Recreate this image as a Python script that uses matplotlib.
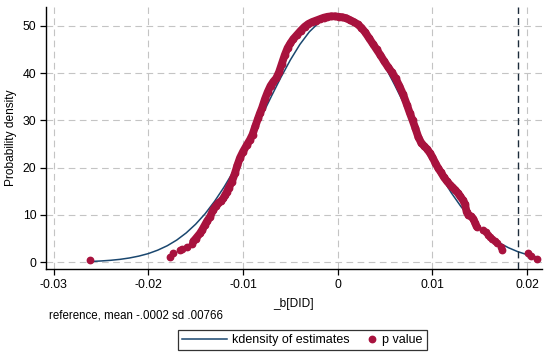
import matplotlib
matplotlib.use("Agg")
import matplotlib.pyplot as plt
from matplotlib.lines import Line2D
from matplotlib.legend_handler import HandlerLine2D

plt.rcParams['font.family'] = ['Liberation Sans', 'DejaVu Sans']

# kdensity reference line
line_x = [-0.0262, -0.025, -0.024, -0.023, -0.022, -0.021, -0.020, -0.019, -0.018,
          -0.017, -0.016, -0.015, -0.014, -0.013, -0.012, -0.011, -0.010, -0.009,
          -0.008, -0.007, -0.006, -0.005, -0.004, -0.003, -0.002, -0.001, 0.000,
          0.001, 0.002, 0.003, 0.004, 0.005, 0.006, 0.007, 0.008, 0.009, 0.010,
          0.011, 0.012, 0.013, 0.014, 0.015, 0.016, 0.017, 0.018, 0.019, 0.020, 0.021]
line_y = [0.16, 0.28, 0.42, 0.62, 0.91, 1.31, 1.84, 2.57, 3.50,
          4.70, 6.21, 8.06, 10.27, 12.90, 15.91, 19.27, 22.98, 26.92,
          31.02, 35.12, 39.10, 42.79, 46.05, 48.72, 50.66, 51.80, 52.06,
          51.44, 49.98, 47.73, 44.81, 41.36, 37.53, 33.48, 29.36, 25.32, 21.46,
          17.88, 14.65, 11.80, 9.34, 7.27, 5.56, 4.19, 3.10, 2.25, 1.61, 1.13]

# p value points: sparse left tail
tail_left_x = [-0.02617, -0.01769, -0.01744, -0.01665, -0.01644, -0.01589, -0.01543]
tail_left_y = [0.5, 1.2, 2.0, 2.6, 2.75, 3.2, 3.9]

# p value points: dense body
body_x = [-0.01526, -0.0150, -0.01455, -0.0143, -0.01402, -0.0138, -0.01349, -0.01315,
          -0.0129, -0.01262, -0.01235, -0.01209, -0.0119, -0.01173, -0.0115, -0.0112,
          -0.01086, -0.0106, -0.01032, -0.0100, -0.0096, -0.00927, -0.0090, -0.0087,
          -0.0084, -0.00822, -0.0080, -0.00769, -0.0074, -0.0071, -0.0068, -0.0065,
          -0.0062, -0.0059, -0.0056, -0.0053, -0.0050, -0.0047, -0.0043, -0.0039,
          -0.0035, -0.0031, -0.0027, -0.0023, -0.0019, -0.0015, -0.0011, -0.0007,
          -0.0003, 0.0001, 0.0005, 0.0009, 0.0013, 0.0017, 0.0021, 0.0025, 0.0029,
          0.0033, 0.0037, 0.0041, 0.0045, 0.0049, 0.0053, 0.0057, 0.0061, 0.0065,
          0.0069, 0.0073, 0.0076, 0.0079, 0.0082, 0.0085, 0.0088, 0.0091, 0.0094,
          0.0097, 0.0100, 0.0103, 0.0106, 0.0109, 0.0112, 0.0115, 0.01185, 0.0121,
          0.0124, 0.0127, 0.01291, 0.0132, 0.01343, 0.01361, 0.0138, 0.01405, 0.01431,
          0.0145, 0.01467]
body_y = [4.4, 5.0, 6.1, 6.9, 7.9, 8.7, 9.6, 11.1,
          11.8, 12.5, 12.9, 13.5, 14.2, 14.8, 15.8, 16.9,
          18.8, 20.5, 22.1, 23.4, 24.8, 25.9, 27.0, 28.8,
          30.5, 31.5, 32.6, 34.5, 36.0, 37.3, 38.2, 38.9,
          40.2, 42.0, 43.8, 45.3, 46.3, 47.2, 48.1, 49.0,
          49.8, 50.4, 50.8, 51.1, 51.4, 51.7, 51.9, 52.0,
          52.0, 51.9, 51.8, 51.6, 51.2, 50.8, 50.3, 49.6, 48.6,
          47.4, 46.2, 45.0, 43.8, 42.5, 41.3, 40.2, 38.9, 37.3,
          35.5, 33.3, 31.6, 30.0, 28.3, 26.5, 25.3, 24.6, 24.0,
          23.2, 22.2, 21.0, 19.9, 19.0, 18.0, 17.2, 16.4, 15.9,
          15.3, 14.6, 14.0, 13.2, 12.3, 10.6, 10.0, 9.7, 9.2,
          8.3, 7.5]

# p value points: sparse right tail
tail_right_x = [0.01536, 0.0156, 0.0159, 0.01607, 0.0163, 0.01655, 0.01678, 0.0172,
                0.0173, 0.02012, 0.02037, 0.02099]
tail_right_y = [6.8, 6.4, 5.8, 5.4, 5.0, 4.5, 4.0, 3.3, 2.6, 2.0, 1.3, 0.6]

actual_estimate = 0.0190

x_ticks = [-0.03, -0.02, -0.01, 0, 0.01, 0.02]
x_tick_labels = ['-0.03', '-0.02', '-0.01', '0', '0.01', '0.02']
y_ticks = [0, 10, 20, 30, 40, 50]

navy = '#1a476f'
red = '#a8123e'


class HandlerRightMarker(HandlerLine2D):
    def get_xdata(self, legend, xdescent, ydescent, width, height, fontsize):
        xm = -xdescent + width - 0.45 * fontsize
        return [xm, xm], [xm]


fig = plt.figure(figsize=(5.5, 3.58), dpi=100)
ax = fig.add_axes([46/550, 1-269.3/358, (541.7-46)/550, (269.3-7)/358])

ax.set_xlim(-0.0308, 0.02153)
ax.set_ylim(-1.48, 53.97)

for xv in x_ticks:
    ax.axvline(xv, color='#c4c4c4', lw=0.8, ls=(0, (6, 4)), zorder=0)
for yv in y_ticks:
    ax.axhline(yv, color='#c4c4c4', lw=0.8, ls=(0, (6, 4)), zorder=0)

ax.plot(line_x, line_y, color=navy, lw=1.1, zorder=2)

ax.plot(body_x, body_y, color=red, lw=5.6, solid_capstyle='round',
        solid_joinstyle='round', zorder=3)
all_x = tail_left_x + body_x + tail_right_x
all_y = tail_left_y + body_y + tail_right_y
ax.plot(all_x, all_y, ls='none', marker='o', ms=4.6, color=red, mec=red, zorder=4)

ax.axvline(actual_estimate, color='#1c2b3a', lw=1.0, ls=(0, (5, 3)), zorder=5)

ax.set_xticks(x_ticks)
ax.set_xticklabels(x_tick_labels)
ax.set_yticks(y_ticks)
ax.tick_params(axis='both', direction='out', length=4, width=0.9, labelsize=8.8,
               color='black', pad=3)

for s in ['top', 'right']:
    ax.spines[s].set_visible(False)
for s in ['left', 'bottom']:
    ax.spines[s].set_linewidth(1.0)
    ax.spines[s].set_color('black')

ax.set_ylabel('Probability density', fontsize=8.6, labelpad=4)
ax.set_xlabel('_b[DID]', fontsize=8.6, labelpad=5)

fig.text(49/550, 1-315/358, 'reference, mean -.0002 sd .00766', fontsize=8.3,
         ha='left', va='center')

h_line = Line2D([0], [0], color=navy, lw=1.1)
h_dot = Line2D([0], [0], color=red, ls='none', marker='o', ms=4.6)
leg = fig.legend([h_line, h_dot], ['kdensity of estimates', 'p value'], loc='center',
                 bbox_to_anchor=(302.5/550, 1-340/358), ncol=2, fontsize=9,
                 frameon=True, fancybox=False, handlelength=3.6, columnspacing=-1.3,
                 handletextpad=0.35, borderpad=0.35,
                 handler_map={h_dot: HandlerRightMarker()})
leg.get_frame().set_edgecolor('black')
leg.get_frame().set_linewidth(0.9)

fig.savefig('out.png', dpi=100)
